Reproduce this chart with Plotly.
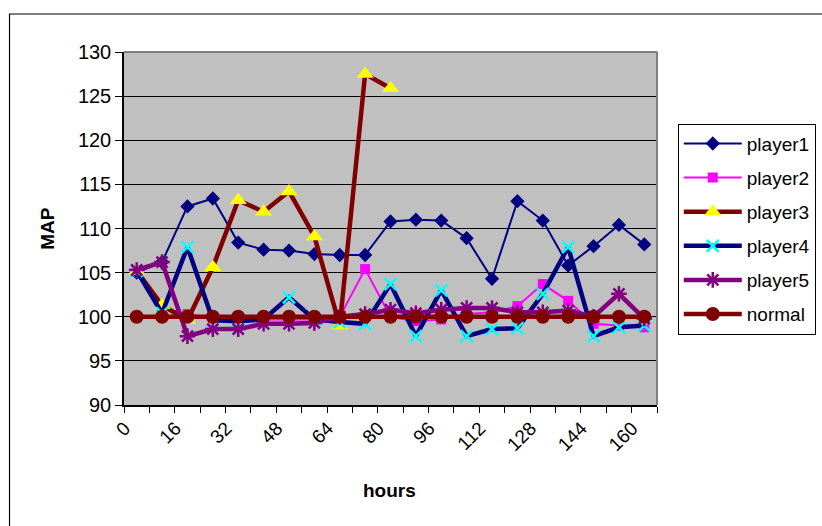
import plotly.graph_objects as go

# Hours sampled every 8 h
hours = list(range(0, 161, 8))
tick_hours = hours[::2]
tick_labels = [str(h) for h in tick_hours]

player1 = [105.0, 106.2, 112.5, 113.4, 108.4, 107.6, 107.5, 107.1, 107.0, 107.0, 110.8,
           111.0, 110.9, 108.9, 104.3, 113.1, 110.9, 105.8, 108.0, 110.4, 108.2]
player2 = [105.3, 101.0, 100.3, 99.8, 99.7, 99.7, 99.7, 99.7, 100.0, 105.4, 100.0,
           99.5, 99.7, 100.3, 100.5, 101.2, 103.7, 101.8, 99.2, 99.0, 98.8]
player3 = [105.2, 101.3, 99.6, 105.6, 113.2, 111.9, 114.2, 109.1, 99.0, 127.5, 125.9] + [None] * 10
player4 = [105.2, 100.4, 107.9, 99.6, 99.5, 99.7, 102.2, 99.7, 99.4, 99.2, 103.7,
           97.8, 103.0, 97.8, 98.6, 98.7, 102.6, 107.9, 97.8, 98.8, 99.0]
player5 = [105.3, 106.2, 97.8, 98.6, 98.6, 99.2, 99.2, 99.3, 100.0, 100.3, 100.8,
           100.4, 100.8, 101.0, 101.0, 100.5, 100.5, 100.7, 100.0, 102.6, 99.8]
normal = [100.0] * 21

series = [
    ("player1", player1, dict(color="#000080", width=2),
     dict(symbol="diamond", size=11, color="#000080")),
    ("player2", player2, dict(color="#FF00FF", width=2),
     dict(symbol="square", size=10, color="#FF00FF")),
    ("player3", player3, dict(color="#800000", width=4.5),
     dict(symbol="triangle-up", size=15, color="#FFFF00")),
    ("player4", player4, dict(color="#000080", width=4.5),
     dict(symbol="x-thin-open", size=12, color="#00FFFF", line=dict(color="#00FFFF", width=2.5))),
    ("player5", player5, dict(color="#800080", width=4.5),
     dict(symbol="asterisk-open", size=13, color="#800080", line=dict(color="#800080", width=2.5))),
    ("normal", normal, dict(color="#800000", width=4.5),
     dict(symbol="circle", size=14, color="#800000")),
]

fig = go.Figure()
for i, (name, vals, line, marker) in enumerate(series):
    fig.add_trace(go.Scatter(
        x=hours, y=vals, name=name, mode="lines+markers",
        line=line, marker=marker, legendgroup=f"g{i}",
        connectgaps=False,
    ))

font_family = "Liberation Sans, Arial, sans-serif"

fig.update_layout(
    width=822, height=526,
    margin=dict(l=124, r=165, t=52, b=121, autoexpand=False),
    paper_bgcolor="white",
    plot_bgcolor="#C0C0C0",
    font=dict(family=font_family, size=19, color="black"),
    showlegend=True,
    legend=dict(
        x=1.039, y=0.797, xanchor="left", yanchor="top",
        bgcolor="white", bordercolor="black", borderwidth=1,
        font=dict(size=19, family=font_family),
        traceorder="grouped", tracegroupgap=6.4,
        itemwidth=58,
    ),
    xaxis=dict(
        range=[-4, 164], automargin=False,
        tickmode="array", tickvals=tick_hours, ticktext=tick_labels,
        tickangle=-45, ticks="", showgrid=False, zeroline=False,
        showline=True, linecolor="black", linewidth=1.5,
        tickfont=dict(size=19),
        ticklabelshift=-12, ticklabelstandoff=3,
        minor=dict(tickmode="array", tickvals=[h - 4 for h in hours] + [164],
                   ticks="outside", ticklen=6, tickcolor="black", tickwidth=1,
                   showgrid=False),
        mirror=False,
    ),
    yaxis=dict(
        range=[90, 130], tickmode="linear", tick0=90, dtick=5, automargin=False,
        ticks="outside", ticklen=7, tickcolor="black",
        showgrid=True, gridcolor="black", gridwidth=1,
        zeroline=False, showline=True, linecolor="black", linewidth=1.5,
        tickfont=dict(size=20),
    ),
    annotations=[
        dict(text="<b>hours</b>", xref="paper", yref="paper", x=0.499, y=-0.241,
             xanchor="center", yanchor="middle", showarrow=False,
             font=dict(size=19)),
        dict(text="<b>MAP</b>", xref="paper", yref="paper", x=-0.145, y=0.501,
             xanchor="center", yanchor="middle", showarrow=False, textangle=-90,
             font=dict(size=19)),
    ],
    shapes=[
        # grey frame on the top and right of the plot area
        dict(type="line", xref="paper", yref="paper", x0=0, x1=1, y0=1, y1=1,
             line=dict(color="#808080", width=2)),
        dict(type="line", xref="paper", yref="paper", x0=1, x1=1, y0=0, y1=1,
             line=dict(color="#808080", width=2)),
        # outer chart border
        dict(type="rect", xref="paper", yref="paper",
             x0=-0.2148, x1=1.33, y0=-0.40, y1=1.1076,
             line=dict(color="black", width=1.2), fillcolor="rgba(0,0,0,0)",
             layer="below"),
    ],
)

fig.write_html("out.html")
